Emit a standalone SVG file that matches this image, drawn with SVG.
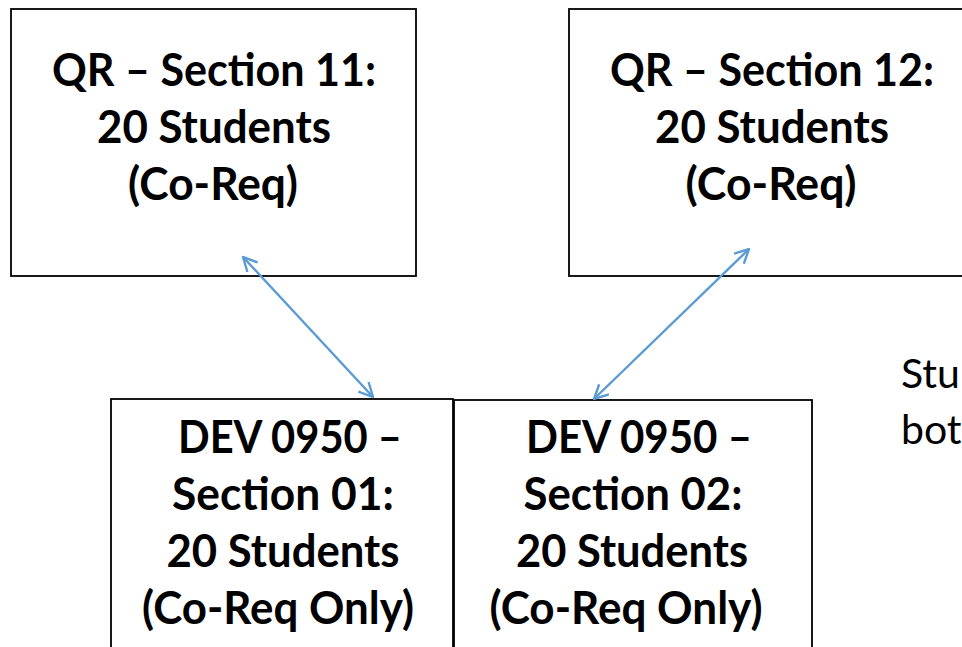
<svg xmlns="http://www.w3.org/2000/svg" width="962" height="647" viewBox="0 0 962 647">
<style>
.box{fill:#fff;stroke:#000;stroke-width:1.8}
.t{font-family:Lato,"Open Sans","Liberation Sans",sans-serif;font-weight:bold;font-size:46px;fill:#000;text-anchor:middle}
.r{font-family:Lato,"Open Sans","Liberation Sans",sans-serif;font-size:41px;fill:#000}
.c{stroke:#5B9BD5;stroke-width:2.4;fill:none}
</style>
<defs>
<marker id="ah" viewBox="0 0 16 16" refX="15" refY="8" markerWidth="16" markerHeight="16" markerUnits="userSpaceOnUse" orient="auto-start-reverse">
<path d="M1,1 L15,8 L1,15" fill="none" stroke="#5B9BD5" stroke-width="2.4"/>
</marker>
</defs>
<rect width="962" height="647" fill="#fff"/>
<g id="qr11">
<rect class="box" x="11" y="9" width="405" height="267"/>
<text class="t" x="214" y="86" textLength="324" lengthAdjust="spacingAndGlyphs">QR – Section 11:</text>
<text class="t" x="214" y="143" textLength="234" lengthAdjust="spacingAndGlyphs">20 Students</text>
<text class="t" x="213" y="200" textLength="170" lengthAdjust="spacingAndGlyphs">(Co-Req)</text>
</g>
<g id="qr12">
<rect class="box" x="569" y="9" width="420" height="267"/>
<text class="t" x="772" y="86" textLength="324" lengthAdjust="spacingAndGlyphs">QR – Section 12:</text>
<text class="t" x="772" y="143" textLength="234" lengthAdjust="spacingAndGlyphs">20 Students</text>
<text class="t" x="771" y="200" textLength="171" lengthAdjust="spacingAndGlyphs">(Co-Req)</text>
</g>
<g id="dev01">
<rect class="box" x="111" y="399" width="342" height="270"/>
<text class="t" x="290" y="453" textLength="224" lengthAdjust="spacingAndGlyphs">DEV 0950 –</text>
<text class="t" x="283" y="510" textLength="222" lengthAdjust="spacingAndGlyphs">Section 01:</text>
<text class="t" x="283" y="567" textLength="233" lengthAdjust="spacingAndGlyphs">20 Students</text>
<text class="t" x="278" y="624" textLength="272" lengthAdjust="spacingAndGlyphs">(Co-Req Only)</text>
</g>
<g id="dev02">
<rect class="box" x="454" y="400" width="358" height="270"/>
<text class="t" x="639" y="453" textLength="226" lengthAdjust="spacingAndGlyphs">DEV 0950 –</text>
<text class="t" x="633" y="510" textLength="219" lengthAdjust="spacingAndGlyphs">Section 02:</text>
<text class="t" x="632" y="567" textLength="232" lengthAdjust="spacingAndGlyphs">20 Students</text>
<text class="t" x="626" y="624" textLength="273" lengthAdjust="spacingAndGlyphs">(Co-Req Only)</text>
</g>
<g id="note">
<text class="r" x="901" y="388">Stu</text>
<text class="r" x="901" y="444">bot</text>
</g>
<g id="connectors">
<line class="c" x1="243" y1="257" x2="373" y2="397" marker-start="url(#ah)" marker-end="url(#ah)"/>
<line class="c" x1="749" y1="249" x2="594" y2="399" marker-start="url(#ah)" marker-end="url(#ah)"/>
</g>
</svg>
